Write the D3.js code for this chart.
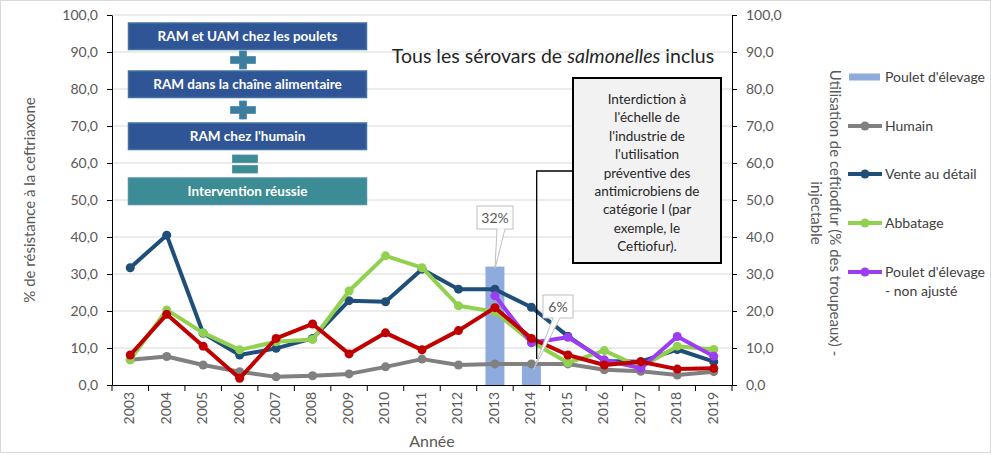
<!DOCTYPE html>
<html><head><meta charset="utf-8">
<script src="https://cdn.jsdelivr.net/npm/d3@7"></script>
<style>
body{margin:0;background:#fff;}
svg{display:block;font-family:Lato,"Open Sans",sans-serif;}
</style></head>
<body><svg id="c" width="991" height="455"></svg>
<script>
const years = ["2003","2004","2005","2006","2007","2008","2009","2010","2011","2012","2013","2014","2015","2016","2017","2018","2019"];
const pouletBars = [null,null,null,null,null,null,null,null,null,null,32,6,null,null,null,null,null];
const humain = [6.8,7.7,5.4,3.6,2.2,2.5,3.0,4.9,7.0,5.4,5.7,5.7,5.7,4.1,3.7,2.7,3.6];
const vente = [31.7,40.5,14.0,8.1,9.9,12.6,22.8,22.5,31.3,25.9,25.9,21.0,13.2,6.5,6.3,9.6,6.3];
const abbatage = [6.8,20.3,14.1,9.5,11.7,12.3,25.4,34.9,31.7,21.4,19.8,11.7,6.0,9.3,4.8,10.5,9.6];
const pouletNonAjuste = [null,null,null,null,null,null,null,null,null,null,24.1,11.4,12.9,6.8,4.5,13.1,7.8];
const pouletAjuste = [8.1,19.1,10.5,1.8,12.6,16.5,8.4,14.1,9.5,14.7,20.9,12.6,8.1,5.4,6.3,4.3,4.5];
const leftTicks = [0,10,20,30,40,50,60,70,80,90,100];
const rightTicks = [0,10,20,30,40,50,60,70,80,90,100];
const barLabels = ["32%","6%"];
const boxTexts = ["RAM et UAM chez les poulets","RAM dans la chaîne alimentaire","RAM chez l'humain","Intervention réussie"];
const calloutLines = ["Interdiction à","l'échelle de","l'industrie de","l'utilisation","préventive des","antimicrobiens de","catégorie I (par","exemple, le","Ceftiofur)."];

const svg = d3.select("#c");
svg.append("rect").attr("x",0.5).attr("y",0.5).attr("width",990).attr("height",452).attr("fill","#fff").attr("stroke","#D9D9D9");

const L=112,R=732,T=15,B=385;
const x = d3.scaleBand().domain(years).range([L,R]).padding(0);
const y = d3.scaleLinear().domain([0,100]).range([B,T]);
const y2 = d3.scaleLinear().domain([0,100]).range([B,T]);
const fmt = d=>d.toFixed(1).replace(".",",");
const grey="#595959";

svg.append("g").selectAll("line").data(leftTicks.filter(d=>d>0)).join("line")
 .attr("x1",L).attr("x2",R).attr("y1",d=>y(d)).attr("y2",d=>y(d)).attr("stroke","#D9D9D9").attr("stroke-width",1);

const bw = x.bandwidth()*0.52;
svg.append("g").selectAll("rect").data(years.map((yr,i)=>({yr,v:pouletBars[i]})).filter(d=>d.v!=null)).join("rect")
 .attr("x",d=>x(d.yr)+x.bandwidth()/2-bw/2).attr("width",bw).attr("y",d=>y2(d.v)).attr("height",d=>B-y2(d.v)).attr("fill","#8FAADC");

const ax = svg.append("g").attr("transform",`translate(${L},0)`).call(d3.axisLeft(y).tickValues(leftTicks).tickFormat(fmt).tickSize(5).tickSizeOuter(0));
const ax2 = svg.append("g").attr("transform",`translate(${R},0)`).call(d3.axisRight(y2).tickValues(rightTicks).tickFormat(fmt).tickSize(5).tickSizeOuter(0));
[ax,ax2].forEach(g=>{g.select(".domain").attr("stroke","#000");g.selectAll(".tick line").attr("stroke","#000");
 g.selectAll("text").attr("fill",grey).style("font-size","14px").style("font-family","Lato,sans-serif");});
ax.selectAll("text").attr("x",-14);
ax2.selectAll("text").attr("x",14);

const xa = svg.append("g").attr("transform",`translate(0,${B})`).call(d3.axisBottom(x).tickSize(0).tickSizeOuter(0));
xa.select(".domain").attr("stroke","#000");
xa.selectAll(".tick text").attr("transform","rotate(-90)").attr("x",-7).attr("y",-1).attr("dy","0.35em")
 .style("text-anchor","end").attr("fill",grey).style("font-size","14px").style("font-family","Lato,sans-serif");
svg.append("g").selectAll("line").data(d3.range(years.length+1)).join("line")
 .attr("x1",i=>L+i*x.bandwidth()).attr("x2",i=>L+i*x.bandwidth()).attr("y1",B).attr("y2",B+6).attr("stroke","#000");

const series=[
 {v:humain,c:"#808080"},
 {v:vente,c:"#1F4E79"},
 {v:abbatage,c:"#92D050"},
 {v:pouletNonAjuste,c:"#9B3DF2"},
 {v:pouletAjuste,c:"#C00000"}];
const line = d3.line().defined(d=>d.v!=null).x(d=>x(d.yr)+x.bandwidth()/2).y(d=>y(d.v));
series.forEach(s=>{
 const pts = years.map((yr,i)=>({yr,v:s.v[i]}));
 const g=svg.append("g");
 g.append("path").attr("d",line(pts)).attr("fill","none").attr("stroke",s.c).attr("stroke-width",4).attr("stroke-linejoin","round");
 g.selectAll("circle").data(pts.filter(d=>d.v!=null)).join("circle").attr("cx",d=>x(d.yr)+x.bandwidth()/2).attr("cy",d=>y(d.v)).attr("r",4.5).attr("fill",s.c);
});

const lab=[{yr:"2013",v:32,t:barLabels[0],bx:477,by:206,w:36,h:23,px:497,pw:8},
           {yr:"2014",v:6,t:barLabels[1],bx:543,by:295,w:30,h:23,px:553,pw:7}];
lab.forEach(d=>{
 const tx=x(d.yr)+x.bandwidth()/2;
 const tipx = d.v>20? tx : tx+2, tipy = d.v>20? y2(d.v)+ 2: 370;
 svg.append("path").attr("d",`M${d.px},${d.by+d.h} L${tipx},${tipy} L${d.px+d.pw},${d.by+d.h}`).attr("fill","#fff").attr("stroke","#BFBFBF").attr("stroke-width",1);
 svg.append("rect").attr("x",d.bx).attr("y",d.by).attr("width",d.w).attr("height",d.h).attr("fill","#fff").attr("stroke","#BFBFBF");
 svg.append("line").attr("x1",d.px+0.5).attr("x2",d.px+d.pw-0.5).attr("y1",d.by+d.h).attr("y2",d.by+d.h).attr("stroke","#fff").attr("stroke-width",1.5);
 svg.append("text").attr("x",d.bx+d.w/2).attr("y",d.by+d.h/2+5).attr("text-anchor","middle").attr("fill",grey).style("font-size","14px").text(d.t);
});

svg.append("path").attr("d","M573,171 H536.7 V359").attr("fill","none").attr("stroke","#000").attr("stroke-width",1.3);
svg.append("rect").attr("x",573).attr("y",78).attr("width",148).attr("height",185).attr("fill","#F2F2F2").attr("stroke","#000").attr("stroke-width",2);
svg.append("text").attr("text-anchor","middle").attr("fill","#262626").style("font-size","13.5px")
 .selectAll("tspan").data(calloutLines).join("tspan").attr("x",647).attr("y",(d,i)=>104+i*18.4).text(d=>d);

const tt=svg.append("text").attr("x",553).attr("y",63).attr("text-anchor","middle").attr("fill","#262626").style("font-size","19.5px");
tt.append("tspan").text("Tous les sérovars de ");
tt.append("tspan").style("font-style","italic").text("salmonelles");
tt.append("tspan").text(" inclus");

const boxes=[{y:23,c:"#2F5597",s:"#41719C"},{y:71,c:"#2F5597",s:"#41719C"},{y:123,c:"#2F5597",s:"#41719C"},{y:178,c:"#3B8C94",s:"#4F8FA8"}];
boxes.forEach((b,i)=>{
 svg.append("rect").attr("x",128.5).attr("y",b.y).attr("width",238).attr("height",26.5).attr("fill",b.c).attr("stroke",b.s).attr("stroke-width",1.5);
 svg.append("text").attr("x",247.5).attr("y",b.y+18).attr("text-anchor","middle").attr("fill","#fff").style("font-size","13.5px").style("font-weight","bold").text(boxTexts[i]);
});
[60,110].forEach(cy=>{
 svg.append("path").attr("d",`M${243-3.5},${cy-9} h7 v5.5 h9 v7 h-9 v5.5 h-7 v-5.5 h-9 v-7 h9 z`).attr("fill","#3D7E9E").attr("stroke","#4A8AAA").attr("stroke-width",0.8);
});
svg.append("rect").attr("x",232.5).attr("y",155).attr("width",25).attr("height",7.5).attr("fill","#3B8C94").attr("stroke","#4F8FA8").attr("stroke-width",0.8);
svg.append("rect").attr("x",232.5).attr("y",165.5).attr("width",25).attr("height",7.5).attr("fill","#3B8C94").attr("stroke","#4F8FA8").attr("stroke-width",0.8);

svg.append("text").attr("transform","translate(35,200) rotate(-90)").attr("text-anchor","middle").attr("fill",grey).style("font-size","15px").text("% de résistance à la ceftriaxone");
const rt=svg.append("text").attr("transform","translate(830,213) rotate(90)").attr("text-anchor","middle").attr("fill",grey).style("font-size","15px");
rt.append("tspan").attr("x",0).attr("y",0).text("Utilisation de ceftiodfur (% des troupeaux) -");
rt.append("tspan").attr("x",0).attr("y",19).text("injectable");
svg.append("text").attr("x",432).attr("y",447).attr("text-anchor","middle").attr("fill",grey).style("font-size","16px").text("Année");

const leg=[{t:["Poulet d'élevage"],c:"#8FAADC",bar:true,y:77},{t:["Humain"],c:"#808080",y:126},{t:["Vente au détail"],c:"#1F4E79",y:174},{t:["Abbatage"],c:"#92D050",y:223},{t:["Poulet d'élevage","- non ajusté"],c:"#9B3DF2",y:272}];
leg.forEach(l=>{
 if(l.bar) svg.append("rect").attr("x",849).attr("y",l.y-3.5).attr("width",31).attr("height",7).attr("fill",l.c);
 else{
  svg.append("line").attr("x1",848).attr("x2",882).attr("y1",l.y).attr("y2",l.y).attr("stroke",l.c).attr("stroke-width",4);
  svg.append("circle").attr("cx",865).attr("cy",l.y).attr("r",4.5).attr("fill",l.c);
 }
 const t=svg.append("text").attr("fill","#404040").style("font-size","14px");
 l.t.forEach((s,i)=>t.append("tspan").attr("x",885).attr("y",l.y+5+i*19).text(s));
});
</script></body></html>
